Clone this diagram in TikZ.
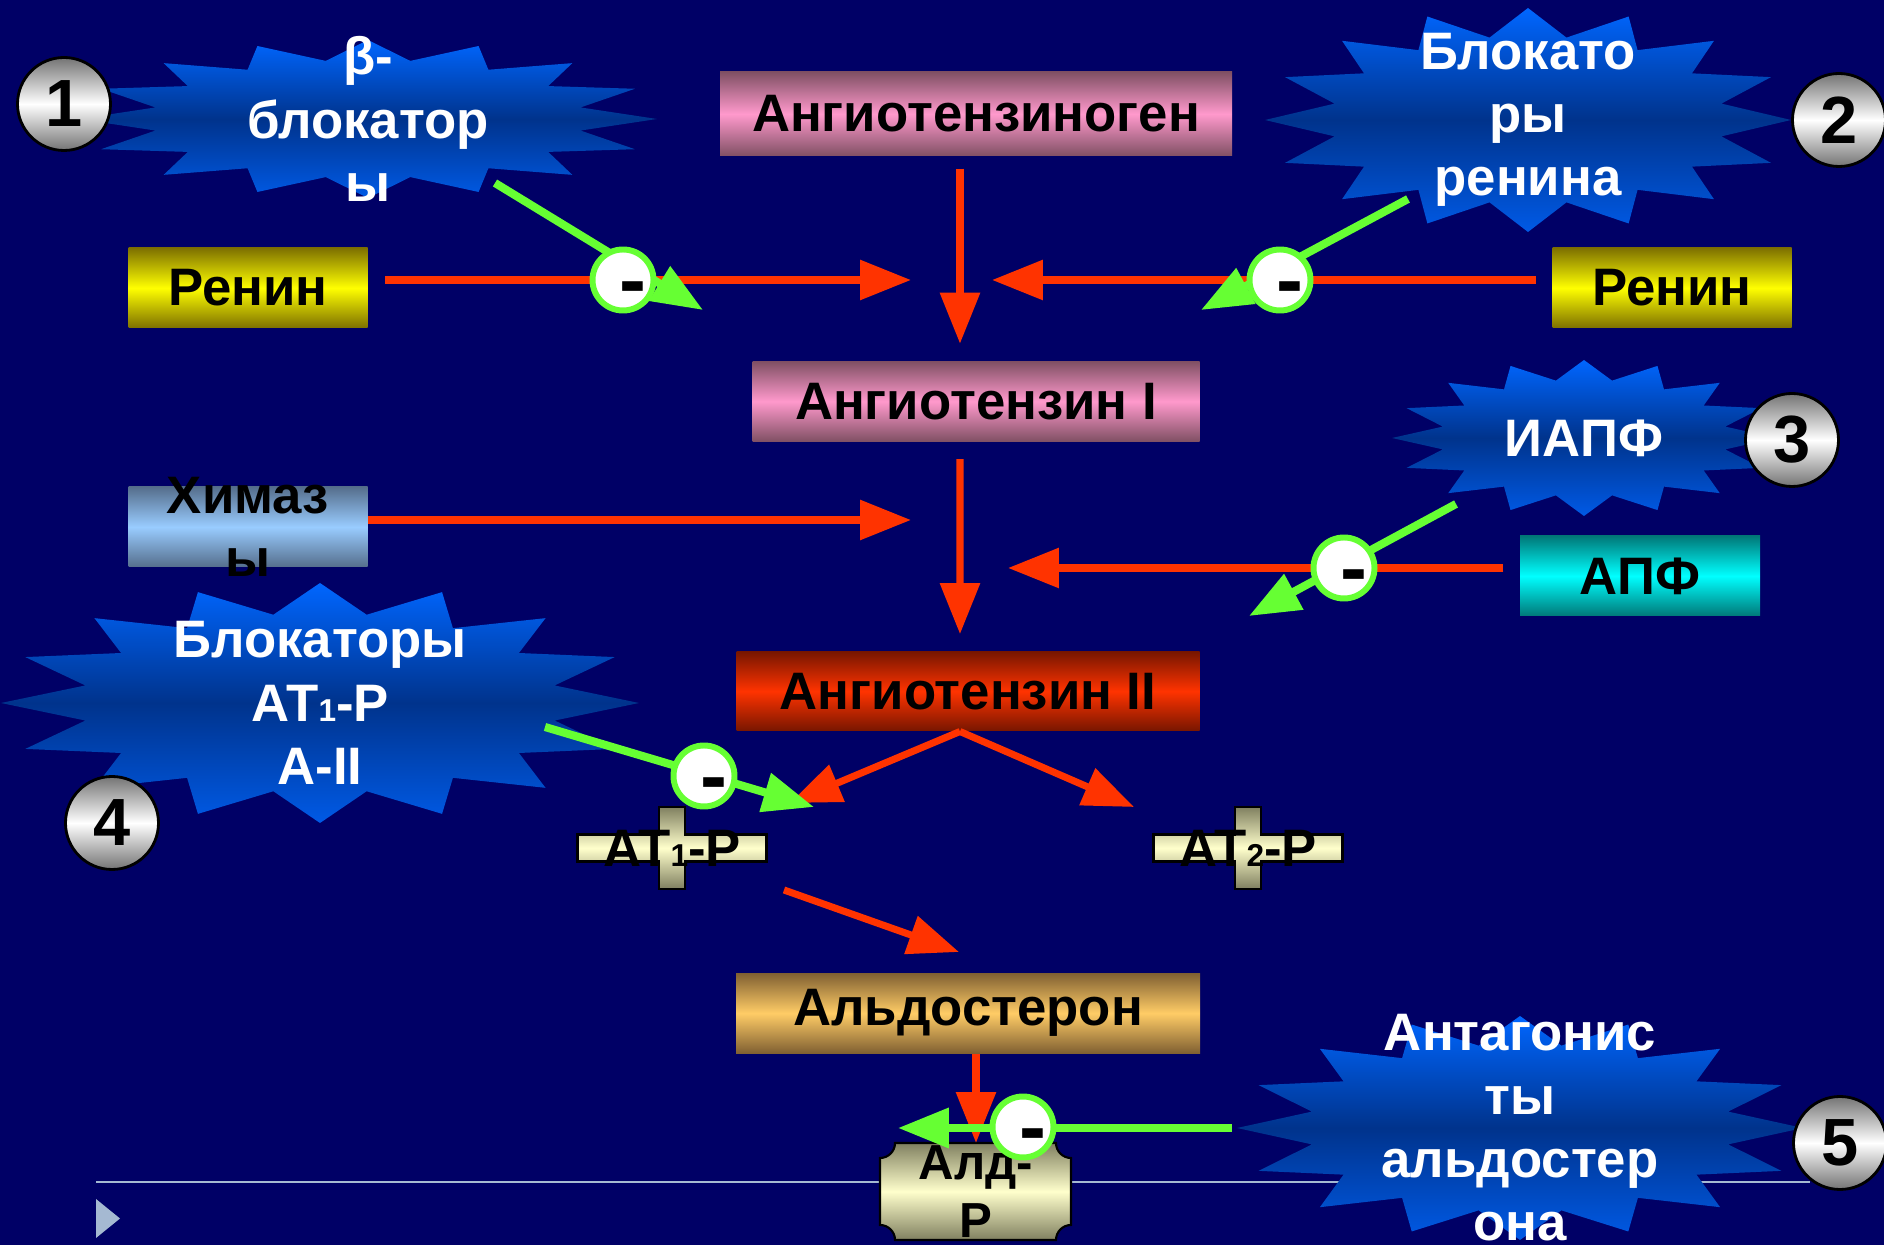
\documentclass[tikz,border=0pt]{standalone}
\usepackage{fontspec}
\setmainfont{Liberation Sans}
\usetikzlibrary{arrows.meta, positioning}

\definecolor{bgnavy}{RGB}{0,0,102}
\definecolor{redl}{RGB}{255,51,0}
\definecolor{grn}{RGB}{102,255,51}
\definecolor{renD}{RGB}{125,112,0}
\definecolor{renL}{RGB}{255,255,0}
\definecolor{angD}{RGB}{128,80,100}
\definecolor{angL}{RGB}{255,153,204}
\definecolor{an2D}{RGB}{120,22,0}
\definecolor{an2L}{RGB}{255,51,0}
\definecolor{chyD}{RGB}{85,110,140}
\definecolor{chyL}{RGB}{153,204,255}
\definecolor{apfD}{RGB}{0,120,120}
\definecolor{apfL}{RGB}{0,255,255}
\definecolor{aldD}{RGB}{128,96,50}
\definecolor{aldL}{RGB}{255,204,102}
\definecolor{recD}{RGB}{128,128,96}
\definecolor{recL}{RGB}{255,255,204}
\definecolor{burT}{RGB}{0,102,255}
\definecolor{burM}{RGB}{0,51,140}
\definecolor{burB}{RGB}{0,90,230}
\definecolor{numD}{RGB}{115,115,115}
\definecolor{deco}{RGB}{165,185,210}

\newcommand\txt{\bfseries\fontsize{15}{18}\selectfont}
\newcommand\smalldigit[1]{{\fontsize{9}{11}\selectfont #1}}

% 16-point burst: centre, x radius, y radius
\newcommand\burst[3]{%
  \path[burstfill, shift={(#1)}] plot[variable=\k, samples at={0,...,31}]
    ({(1-0.25*mod(\k,2))*#2*cos(\k*11.25)}, {(1-0.25*mod(\k,2))*#3*sin(\k*11.25)}) -- cycle;}

% receptor cross
\newcommand\receptor[1]{%
  \path[recfill, shift={(#1)}] (-0.945,0.135) -| (-0.13,0.41) -| (0.13,0.135) -| (0.945,-0.135)
    -| (0.13,-0.41) -| (-0.13,-0.135) -| (-0.945,0.135) -- cycle;}

\begin{document}
\begin{tikzpicture}[
    >={Triangle[length=14.5pt, width=11pt]},
    shade2/.style 2 args={top color=#1, bottom color=#1, middle color=#2},
    box/.style={rectangle, inner sep=0pt, font=\txt, text=black},
    renbox/.style={box, minimum width=2.39cm, minimum height=0.8cm, shade2={renD}{renL}},
    chybox/.style={box, minimum width=2.39cm, minimum height=0.8cm, shade2={chyD}{chyL}},
    apfbox/.style={box, minimum width=2.4cm, minimum height=0.8cm, shade2={apfD}{apfL}},
    angbox/.style={box, minimum height=0.8cm, shade2={angD}{angL}},
    an2box/.style={box, minimum width=4.63cm, minimum height=0.79cm, shade2={an2D}{an2L}},
    aldbox/.style={box, minimum width=4.64cm, minimum height=0.8cm, shade2={aldD}{aldL}},
    burstfill/.style={top color=burT, bottom color=burB, middle color=burM},
    bursttxt/.style={align=center, text=white, font=\txt, inner sep=0pt},
    recfill/.style={draw=black, line width=0.6pt, shade2={recD}{recL}},
    numc/.style={circle, draw=black, line width=0.8pt, minimum size=0.93cm, inner sep=0pt,
        shade2={numD}{white}, font=\bfseries\fontsize{19}{19}\selectfont},
    minus/.style={circle, draw=grn, line width=1.7pt, fill=white, minimum size=0.61cm, inner sep=0pt,
        label={[font=\bfseries\fontsize{23}{23}\selectfont, inner sep=0pt, xshift=2.8pt, yshift=-4.2pt]center:-}},
    redarr/.style={draw=redl, line width=2pt, ->},
    grnarr/.style={draw=grn, line width=2.3pt, ->}
]
    \fill[bgnavy] (0,0) rectangle (18.84,-12.45);
    \useasboundingbox (0,0) rectangle (18.84,-12.45);

    % slide footer
    \draw[deco, line width=0.7pt] (0.96,-11.82) -- (18.10,-11.82);
    \fill[deco] (0.96,-11.99) -- (1.20,-12.185) -- (0.96,-12.38) -- cycle;

    % bursts
    \coordinate (s1) at (3.68,-1.19);
    \coordinate (s2) at (15.28,-1.20);
    \coordinate (s3) at (15.84,-4.38);
    \coordinate (s4) at (3.20,-7.03);
    \coordinate (s5) at (15.20,-11.28);
    \burst{s1}{2.89}{0.79}
    \burst{s2}{2.63}{1.12}
    \burst{s3}{1.92}{0.78}
    \burst{s4}{3.19}{1.20}
    \burst{s5}{2.83}{1.12}

    \node[bursttxt] (b1) at (s1) {β-\\блокатор\\ы};
    \node[bursttxt] (b2) at (s2) {Блокато\\ры\\ренина};
    \node[bursttxt] (b3) at (s3) {ИАПФ};
    \node[bursttxt] (b4) at (s4) {Блокаторы\\АТ\smalldigit{1}-Р\\А-II};
    \node[bursttxt] (b5) at (s5) {Антагонис\\ты\\альдостер\\она};

    % receptors
    \coordinate (r1) at (6.72,-8.48);
    \coordinate (r2) at (12.48,-8.48);
    \receptor{r1}
    \receptor{r2}
    \node[box] (at1) at (r1) {АТ\smalldigit{1}-Р};
    \node[box] (at2) at (r2) {АТ\smalldigit{2}-Р};

    % aldosterone receptor plaque
    \path[recfill] (8.95,-11.43) -- (10.56,-11.43) arc[start angle=180, end angle=270, radius=0.15]
        -- (10.71,-12.25) arc[start angle=90, end angle=180, radius=0.15]
        -- (8.95,-12.40) arc[start angle=0, end angle=90, radius=0.15]
        -- (8.80,-11.58) arc[start angle=270, end angle=360, radius=0.15] -- cycle;
    \node[box, align=center, font=\bfseries\fontsize{14}{16.5}\selectfont] (aldr) at (9.76,-11.92) {Алд-\\Р};
    \coordinate (aldtop) at (9.76,-11.43);

    % boxes
    \node[renbox] (ren1) at (2.48,-2.88) {Ренин};
    \node[renbox] (ren2) at (16.72,-2.88) {Ренин};
    \node[chybox, label={[font=\txt, align=center, inner sep=0pt]center:{Химаз\\ы}}] (chym) at (2.48,-5.27) {};
    \node[apfbox] (apf) at (16.40,-5.76) {АПФ};
    \node[angbox, minimum width=5.12cm, minimum height=0.84cm] (agen) at (9.76,-1.14) {Ангиотензиноген};
    \node[angbox, minimum width=4.47cm, below=2.04cm of agen] (ang1) {Ангиотензин I};
    \node[an2box, below=2.09cm of ang1, xshift=-0.8mm] (ang2) {Ангиотензин II};
    \node[aldbox, below=2.41cm of ang2] (ald) {Альдостерон};

    % meeting points
    \coordinate (j1w) at (9.11,-2.80);
    \coordinate (j1e) at (9.92,-2.80);
    \coordinate (j2w) at (9.11,-5.20);
    \coordinate (j2e) at (10.08,-5.68);
    \coordinate (at1in) at (7.90,-8.03);
    \coordinate (at2in) at (11.34,-8.07);
    \coordinate (aldin) at (9.59,-9.52);

    % red flow
    \draw[redarr] ([xshift=-1.6mm, yshift=-1.2mm]agen.south) -- ([xshift=-1.6mm, yshift=1.7mm]ang1.north);
    \draw[redarr, shorten <=1.7mm] (ren1.east |- j1w) -- (j1w);
    \draw[redarr, shorten <=1.6mm] (ren2.west |- j1e) -- (j1e);
    \draw[redarr] ([xshift=-1.6mm, yshift=-1.7mm]ang1.south) -- ([xshift=-0.8mm, yshift=1.7mm]ang2.north);
    \draw[redarr] (chym.east |- j2w) -- (j2w);
    \draw[redarr, shorten <=1.6mm] (apf.west |- j2e) -- (j2e);
    \draw[redarr] ([xshift=-0.8mm]ang2.south) -- (at1in);
    \draw[redarr] ([xshift=-0.8mm]ang2.south) -- (at2in);
    \draw[redarr] ([shift={(1.12,-0.42)}]at1.center) -- (aldin);
    \draw[redarr] (aldtop |- ald.south) -- (aldtop);

    % green blocks
    \coordinate (g1t) at (7.03,-3.10);
    \coordinate (g2t) at (12.01,-3.10);
    \coordinate (g3t) at (12.49,-6.16);
    \coordinate (g4t) at (8.14,-8.07);
    \coordinate (g5t) at (8.98,-11.28);
    \draw[grnarr] ([shift={(1.27,-0.64)}]b1.center) -- (g1t);
    \draw[grnarr] ([shift={(-1.20,-0.79)}]b2.center) -- (g2t);
    \draw[grnarr] ([shift={(-1.28,-0.66)}]b3.center) -- (g3t);
    \draw[grnarr] ([shift={(2.25,-0.24)}]b4.center) -- (g4t);
    \draw[grnarr] ([shift={(-2.88,0)}]b5.center) -- (g5t);

    \node[minus] (m1) at (6.23,-2.80) {};
    \node[minus] (m2) at (12.80,-2.80) {};
    \node[minus] (m3) at (13.44,-5.68) {};
    \node[minus] (m4) at (7.04,-7.76) {};
    \node[minus] (m5) at (10.23,-11.27) {};

    % numbers
    \node[numc] (n1) at (0.64,-1.04) {1};
    \node[numc] (n2) at (18.39,-1.20) {2};
    \node[numc] (n3) at (17.92,-4.40) {3};
    \node[numc] (n4) at (1.12,-8.23) {4};
    \node[numc] (n5) at (18.40,-11.43) {5};
\end{tikzpicture}
\end{document}
